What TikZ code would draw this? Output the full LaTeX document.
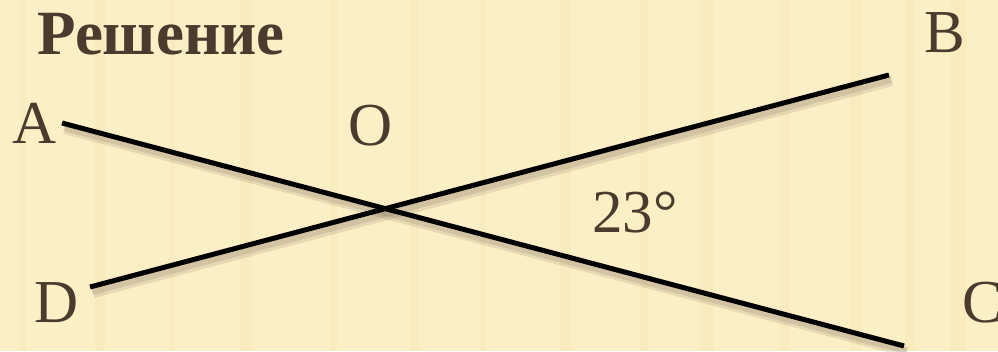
\documentclass[tikz,border=0pt]{standalone}
\usepackage{fontspec}
\setmainfont{Liberation Serif}
\usepackage{tikz}
\usepackage{xcolor}
\usetikzlibrary{positioning, calc}
\definecolor{paper}{HTML}{FBEFC6}
\definecolor{stripe}{HTML}{F3E2AE}
\definecolor{ink}{HTML}{4B3A2E}
\tikzset{label/.style={text=ink, inner sep=0pt, anchor=base, font=\fontsize{61}{61}\selectfont},
title/.style={label, font=\fontsize{63}{63}\selectfont\bfseries},
line/.style={line width=5pt, black},
shade/.style={line width=10pt, ink, opacity=0.12}
}
\begin{document}
\begin{tikzpicture}[x=1pt, y=-1pt]
\useasboundingbox (0,0) rectangle (998,351);
\fill[paper] (0,0) rectangle (998,351);
 % soft vertical stripes of the background
 \foreach \x/\w in {20/6, 95/10, 170/5, 240/12, 330/7, 410/9, 480/6, 560/11, 640/8, 700/14, 780/9, 850/12, 905/10, 950/16}
   \fill[stripe, opacity=0.3] (\x,0) rectangle ++(\w,351);
\coordinate (pA) at (62,123);
\coordinate (pC) at (904,346);
\coordinate (pD) at (90,287);
\coordinate (pB) at (889,75);
\draw[shade] ([shift={(3,6)}]pA) -- ([shift={(3,6)}]pC);
\draw[shade] ([shift={(3,6)}]pD) -- ([shift={(3,6)}]pB);
\draw[shade, line width=6pt] ([shift={(2,5)}]pA) -- ([shift={(2,5)}]pC);
\draw[shade, line width=6pt] ([shift={(2,5)}]pD) -- ([shift={(2,5)}]pB);
\draw[line] (pA) -- (pC);
\draw[line] (pD) -- (pB);
\node[title] (t) at (161,54) {Решение};
\node[label] (a) at (35,143) {A};
\node[label] (o) at (371,145) {O};
\node[label] (b) at (945,52) {B};
\node[label] (c) at (983,322) {C};
\node[label] (d) at (57,322) {D};
\node[label] (ang) at (635,232) {23°};
\end{tikzpicture}
\end{document}
